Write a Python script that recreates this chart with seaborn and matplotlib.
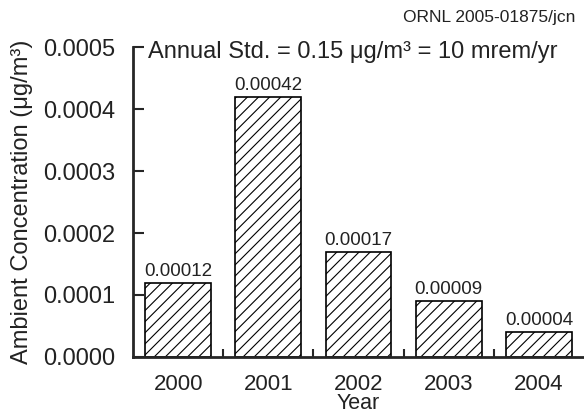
import matplotlib
matplotlib.use("Agg")
import matplotlib.pyplot as plt
from matplotlib.ticker import FixedLocator
import seaborn as sns
import pandas as pd

# Annual ambient concentrations by year
years = ["2000", "2001", "2002", "2003", "2004"]
concentrations = [0.00012, 0.00042, 0.00017, 0.00009, 0.00004]
y_ticks = [0.0, 0.0001, 0.0002, 0.0003, 0.0004, 0.0005]

sns.set_style("ticks")
plt.rcParams["font.family"] = ["Liberation Sans", "DejaVu Sans"]
plt.rcParams["hatch.linewidth"] = 0.8

df = pd.DataFrame({"Year": years, "Concentration": concentrations})

fig = plt.figure(figsize=(5.84, 4.17), dpi=100)
ax = fig.add_axes([0.228, 0.144, 0.772, 0.743])

sns.barplot(data=df, x="Year", y="Concentration", ax=ax, color="white",
            edgecolor="black", linewidth=1.2, width=0.73, hatch="///",
            saturation=1)

for c in ax.containers:
    ax.bar_label(c, labels=[f"{v:.5f}" for v in c.datavalues],
                 padding=2, fontsize=13.5, color="#222222")

ax.set_xlim(-0.5, 4.5)
ax.set_ylim(0, 0.0005)
ax.set_yticks(y_ticks)
ax.set_yticklabels([f"{t:.4f}" for t in y_ticks], fontsize=17, color="#222222")
ax.tick_params(axis="y", direction="in", length=8, width=1.5, pad=13)
ax.tick_params(axis="x", which="major", length=0, labelsize=16,
               labelcolor="#222222", pad=12)
ax.xaxis.set_minor_locator(FixedLocator([0.5, 1.5, 2.5, 3.5]))
ax.tick_params(axis="x", which="minor", direction="in", length=6, width=1.5)

for side in ("top", "right"):
    ax.spines[side].set_visible(False)
for side in ("left", "bottom"):
    ax.spines[side].set_linewidth(2)

ax.set_xlabel("Year", fontsize=15.5, labelpad=-1, color="#222222")
ax.set_ylabel("Ambient Concentration (\u03bcg/m\u00b3)", fontsize=17,
              labelpad=7, color="#222222")

ax.text(0.033, 0.985, "Annual Std. = 0.15 \u03bcg/m\u00b3 = 10 mrem/yr",
        transform=ax.transAxes, fontsize=17, va="center", ha="left",
        color="#222222")
fig.text(0.986, 0.957, "ORNL 2005-01875/jcn", fontsize=12.5,
         ha="right", va="center", color="#222222")

fig.savefig("out.png", dpi=100)
